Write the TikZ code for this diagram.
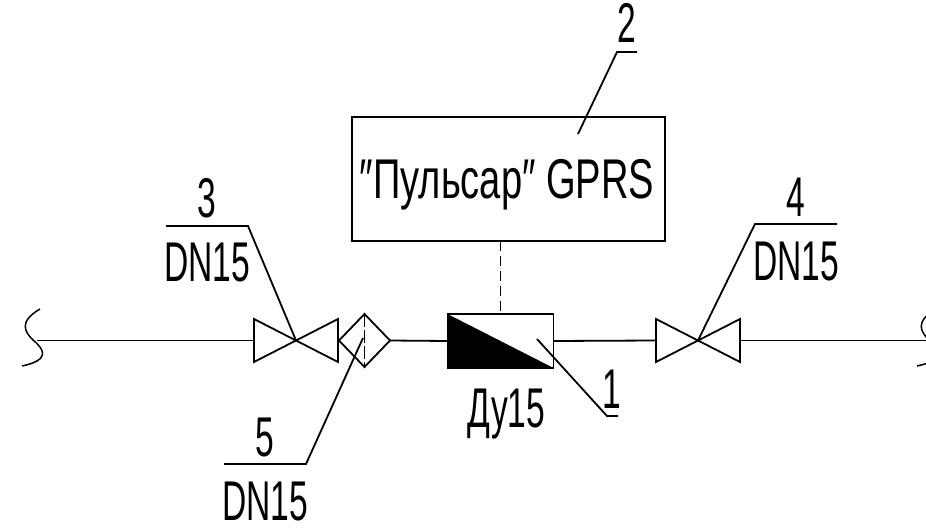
\documentclass[tikz,border=0pt]{standalone}
\usepackage{fontspec}
\setmainfont[FakeStretch=0.6]{Liberation Sans}
\newfontfamily\namefont[FakeStretch=0.68]{Liberation Sans}
\usetikzlibrary{shapes.geometric}
\begin{document}
\begin{tikzpicture}[x=1pt,y=-1pt,line width=1.8pt,
lbl/.style={inner sep=0pt,anchor=base,font=\fontsize{56}{56}\selectfont},
dev/.style={draw,inner sep=0pt,outer sep=0pt}]
\useasboundingbox (0,0) rectangle (926,529);
\coordinate (pipeL) at (37,340.5);
\coordinate (pipeR) at (926,340.5);
\foreach \n/\x in {v3/296,v4/698}{
\coordinate (\n) at (\x,340.5);
\coordinate (\n l) at (\x-42,340.5);
\coordinate (\n r) at (\x+42,340.5);
\draw (\n) -- (\x-42,319) -- (\x-42,362) -- cycle;
\draw (\n) -- (\x+42,319) -- (\x+42,362) -- cycle;
}
\node[dev,diamond,minimum width=51pt,minimum height=53pt] (filter) at (364.5,340.5) {};
\node[dev,minimum width=106pt,minimum height=54pt] (meter) at (500.5,341) {};
\fill (meter.north west) -- (meter.south east) -- (meter.south west) -- cycle;
\node[dev,minimum width=313pt,minimum height=123.5pt] (pulsar) at (508.5,179) {};
\node[lbl,font=\namefont\fontsize{56}{56}\selectfont] (name) at (507,199) {″Пульсар″ GPRS};
\node[lbl] (du) at (506.5,427) {Ду15};
\draw (pipeL) -- (v3l);
\draw (v3r) -- (filter.west);
\draw (filter.east) -- (meter.west);
\draw (meter.east) -- (v4l);
\draw (v4r) -- (pipeR);
\draw[dash pattern=on 10pt off 5pt] (pulsar.south -| meter.north) -- (meter.north);
\draw[dash pattern=on 13pt off 3pt,line width=1.5pt] (filter.north) -- (filter.south);
\draw[line width=1.5pt] (40,309) .. controls (18,322) and (25,332) .. (33,340) .. controls (45,350) and (50,360) .. (22,366);
\begin{scope}
\clip (0,0) rectangle (926,529);
\draw[line width=1.5pt] (936,309) .. controls (914,322) and (921,332) .. (929,340) .. controls (941,350) and (946,360) .. (917,366);
\end{scope}
\coordinate (a2) at (578,134);
\coordinate (b2) at (617,52);
\coordinate (c2) at (637,52);
\coordinate (b3) at (248,226);
\coordinate (c3) at (166,226);
\coordinate (b4) at (755,224);
\coordinate (c4) at (837,224);
\coordinate (a5) at (363,338);
\coordinate (b5) at (306,464);
\coordinate (c5) at (224,464);
\coordinate (a1) at (537,339);
\coordinate (b1) at (607,416);
\coordinate (c1) at (618,416);
\draw (a2) -- (b2) -- (c2);
\draw (v3) -- (b3) -- (c3);
\draw (v4) -- (b4) -- (c4);
\draw (a5) -- (b5) -- (c5);
\draw (a1) -- (b1) -- (c1);
\node[lbl] (n2) at (627,43) {2};
\node[lbl] (n3) at (207,218) {3};
\node[lbl] (n4) at (796,217) {4};
\node[lbl] (n5) at (265,456) {5};
\node[lbl] (n1) at (612,408) {1};
\node[lbl] (d3) at (207,282) {DN15};
\node[lbl] (d4) at (796,280) {DN15};
\node[lbl] (d5) at (265,520) {DN15};
\end{tikzpicture}
\end{document}
